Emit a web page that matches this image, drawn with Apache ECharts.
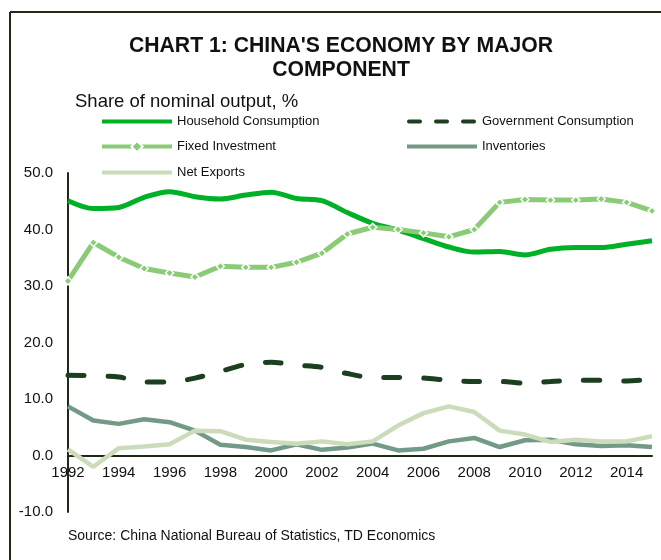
<!DOCTYPE html>
<html>
<head>
<meta charset="utf-8">
<script src="https://cdn.jsdelivr.net/npm/echarts@6/dist/echarts.min.js"></script>
<style>
  html, body { margin: 0; padding: 0; background: #fff; }
  #chart { width: 661px; height: 560px; }
</style>
</head>
<body>
<div id="chart"></div>
<script>
// Years on the horizontal axis
const years = ['1992','1993','1994','1995','1996','1997','1998','1999','2000','2001','2002','2003',
               '2004','2005','2006','2007','2008','2009','2010','2011','2012','2013','2014','2015'];

// Share of nominal output, %
const householdConsumption = [45.1, 43.7, 43.9, 45.7, 46.7, 45.8, 45.4, 46.1, 46.6, 45.5, 45.1, 43.0,
                              41.1, 39.9, 38.4, 36.9, 36.0, 36.1, 35.5, 36.5, 36.8, 36.8, 37.4, 38.0];
const governmentConsumption = [14.2, 14.1, 13.9, 13.0, 13.0, 13.7, 14.9, 16.1, 16.5, 16.0, 15.6, 14.5,
                               13.8, 13.8, 13.7, 13.3, 13.1, 13.1, 12.8, 13.1, 13.3, 13.3, 13.2, 13.5];
const fixedInvestment = [30.9, 37.7, 35.1, 33.1, 32.3, 31.6, 33.5, 33.3, 33.3, 34.2, 35.8, 39.2,
                         40.4, 40.0, 39.4, 38.7, 40.0, 44.8, 45.3, 45.2, 45.2, 45.4, 44.8, 43.3];
const inventories = [8.7, 6.2, 5.6, 6.4, 5.9, 4.4, 1.9, 1.5, 0.9, 2.0, 1.0, 1.4,
                     2.1, 0.9, 1.2, 2.5, 3.1, 1.5, 2.7, 2.8, 2.0, 1.7, 1.8, 1.5];
const netExports = [1.1, -2.0, 1.3, 1.6, 2.0, 4.4, 4.3, 2.8, 2.4, 2.1, 2.5, 2.0,
                    2.5, 5.3, 7.5, 8.7, 7.7, 4.4, 3.7, 2.4, 2.8, 2.5, 2.5, 3.4];

// Value-axis range
const yMin = -10;
const yMax = 50;
const yStep = 10;

const FONT = '"Liberation Sans", Arial, sans-serif';
const AXIS_DARK = '#1d2b12';

const colors = {
  household: '#00b026',
  government: '#1b3f1f',
  fixed: '#8acb76',
  inventories: '#739a86',
  netExports: '#ccdcbb'
};

const GRID = { left: 68, right: 9, top: 173, bottom: 48 };
const plotHeight = 560 - GRID.top - GRID.bottom;
// Category axis sits on the zero line, labels just beneath it
const zeroOffset = -plotHeight * (0 - yMin) / (yMax - yMin);

function legendAt(name, left, top, opts) {
  const lg = {
    data: [name],
    left: left,
    top: top,
    padding: 0,
    itemWidth: 70,
    itemHeight: 14,
    selectedMode: false,
    lineStyle: Object.assign({ width: 4 }, opts.line || {}),
    textStyle: { fontFamily: FONT, fontSize: 13, color: '#111' }
  };
  if (!opts.keepSymbol) lg.itemStyle = { opacity: 0 };
  return lg;
}

const chart = echarts.init(document.getElementById('chart'), null, { renderer: 'canvas' });

chart.setOption({
  backgroundColor: '#fff',
  animation: false,
  title: [
    {
      text: "CHART 1: CHINA'S ECONOMY BY MAJOR\nCOMPONENT",
      left: 341,
      top: 34,
      padding: 0,
      textAlign: 'center',
      textStyle: { fontFamily: FONT, fontSize: 21.2, fontWeight: 'bold', color: '#111', lineHeight: 24 }
    },
    {
      text: 'Share of nominal output, %',
      left: 75,
      top: 92,
      padding: 0,
      textStyle: { fontFamily: FONT, fontSize: 18.5, fontWeight: 'normal', color: '#111' }
    },
    {
      text: 'Source: China National Bureau of Statistics, TD Economics',
      left: 68,
      top: 529,
      padding: 0,
      textStyle: { fontFamily: FONT, fontSize: 14, fontWeight: 'normal', color: '#111' }
    }
  ],
  graphic: [
    { type: 'line', shape: { x1: 10, y1: 12, x2: 661, y2: 12 }, style: { stroke: AXIS_DARK, lineWidth: 2 } },
    { type: 'line', shape: { x1: 10, y1: 12, x2: 10, y2: 560 }, style: { stroke: AXIS_DARK, lineWidth: 2 } }
  ],
  legend: [
    legendAt('Household Consumption', 100, 115, {}),
    legendAt('Government Consumption', 405, 115, { line: { type: [11, 16], cap: 'round', dashOffset: -2 } }),
    legendAt('Fixed Investment', 100, 140, { keepSymbol: true }),
    legendAt('Inventories', 405, 140, {}),
    legendAt('Net Exports', 100, 166, {})
  ],
  grid: { left: GRID.left, right: GRID.right, top: GRID.top, bottom: GRID.bottom, containLabel: false },
  xAxis: {
    type: 'category',
    data: years,
    boundaryGap: false,
    offset: zeroOffset,
    axisLine: { onZero: false, lineStyle: { color: AXIS_DARK, width: 2 } },
    axisTick: { show: false },
    axisLabel: { interval: 1, margin: 10, fontFamily: FONT, fontSize: 15, color: '#111' },
    splitLine: { show: false }
  },
  yAxis: {
    type: 'value',
    min: yMin,
    max: yMax,
    interval: yStep,
    axisLine: { show: true, lineStyle: { color: AXIS_DARK, width: 2 } },
    axisTick: { show: false },
    axisLabel: {
      margin: 15,
      fontFamily: FONT,
      fontSize: 15,
      color: '#111',
      formatter: v => v.toFixed(1)
    },
    splitLine: { show: false }
  },
  series: [
    {
      name: 'Household Consumption',
      type: 'line',
      data: householdConsumption,
      smooth: 0.3,
      symbol: 'none',
      lineStyle: { color: colors.household, width: 5 },
      itemStyle: { color: colors.household }
    },
    {
      name: 'Government Consumption',
      type: 'line',
      data: governmentConsumption,
      smooth: 0.3,
      symbol: 'none',
      lineStyle: { color: colors.government, width: 5, type: [16, 24], cap: 'round' },
      itemStyle: { color: colors.government }
    },
    {
      name: 'Fixed Investment',
      type: 'line',
      data: fixedInvestment,
      symbol: 'diamond',
      symbolSize: 8,
      showSymbol: true,
      lineStyle: { color: colors.fixed, width: 5 },
      itemStyle: { color: colors.fixed, borderColor: '#fff', borderWidth: 1.5 }
    },
    {
      name: 'Inventories',
      type: 'line',
      data: inventories,
      symbol: 'none',
      lineStyle: { color: colors.inventories, width: 4.5 },
      itemStyle: { color: colors.inventories }
    },
    {
      name: 'Net Exports',
      type: 'line',
      data: netExports,
      symbol: 'none',
      lineStyle: { color: colors.netExports, width: 4.5 },
      itemStyle: { color: colors.netExports }
    }
  ]
});
</script>
</body>
</html>
